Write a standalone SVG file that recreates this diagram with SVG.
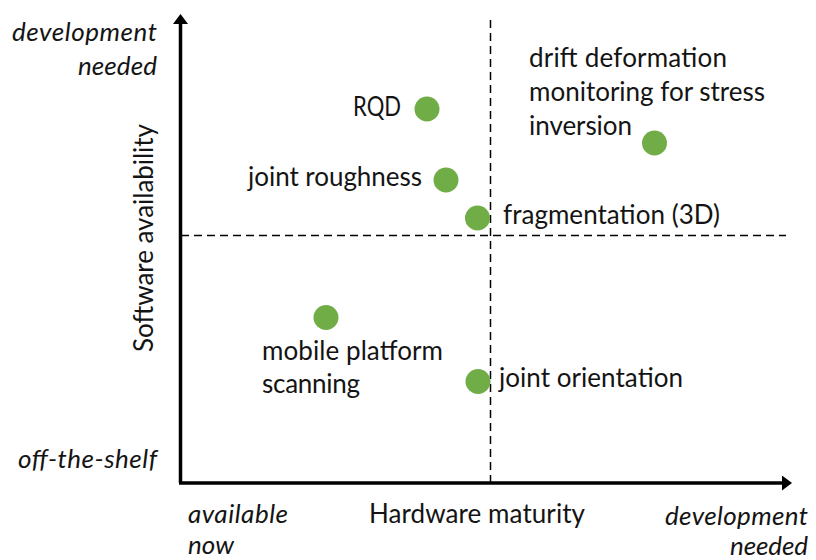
<svg xmlns="http://www.w3.org/2000/svg" width="816" height="560" viewBox="0 0 816 560">
  <style>
    .lbl { font-family: Lato, "Liberation Sans", sans-serif; font-size: 26px; fill: #141414; }
    .it { font-style: italic; }
    .end { text-anchor: end; }
    .axis { stroke: #000; stroke-width: 3.5; fill: none; }
    .div { stroke: #000; stroke-width: 1.5; stroke-dasharray: 8 5; fill: none; }
    .dot { fill: #70AD47; }
  </style>
  <defs>
    <marker id="arrow" viewBox="0 0 10 15" refX="0" refY="7.5" markerWidth="10" markerHeight="15" markerUnits="userSpaceOnUse" orient="auto">
      <path d="M0,0 L10,7.5 L0,15 Z" fill="#000"/>
    </marker>
  </defs>

  <rect width="816" height="560" fill="#fff"/>

  <!-- axes and quadrant dividers -->
  <g id="connectors">
    <path class="div" d="M490.5,20 V483"/>
    <path class="div" d="M181,235.5 H786"/>
    <path class="axis" d="M180.5,483 V24" marker-end="url(#arrow)"/>
    <path class="axis" d="M179,483 H782" marker-end="url(#arrow)"/>
  </g>

  <!-- axis titles and end labels -->
  <g id="axis-labels">
    <text class="lbl it end" x="157" y="41" textLength="145">development</text>
    <text class="lbl it end" x="157" y="75" textLength="79">needed</text>
    <text class="lbl it end" x="157" y="468" textLength="139">off-the-shelf</text>
    <text class="lbl it" x="188" y="523" textLength="100">available</text>
    <text class="lbl it" x="188" y="554" textLength="46">now</text>
    <text class="lbl" x="369" y="523" textLength="216">Hardware maturity</text>
    <text class="lbl it end" x="808" y="525" textLength="143">development</text>
    <text class="lbl it end" x="808" y="555" textLength="78">needed</text>
    <text class="lbl" x="153" y="238" text-anchor="middle" textLength="228" transform="rotate(-90 153 238)">Software availability</text>
  </g>

  <g id="node-rqd">
    <circle class="dot" cx="427" cy="109" r="12.5"/>
    <text class="lbl" x="353" y="116" textLength="48" lengthAdjust="spacingAndGlyphs">RQD</text>
  </g>

  <g id="node-joint-roughness">
    <circle class="dot" cx="446" cy="180" r="12.5"/>
    <text class="lbl" x="248" y="186" textLength="174">joint roughness</text>
  </g>

  <g id="node-fragmentation">
    <circle class="dot" cx="477.5" cy="218" r="12.5"/>
    <text class="lbl" x="503" y="224" textLength="217">fragmentation (3D)</text>
  </g>

  <g id="node-drift-deformation">
    <circle class="dot" cx="654.5" cy="143" r="12.5"/>
    <text class="lbl" x="529" y="67" textLength="198">drift deformation</text>
    <text class="lbl" x="529" y="101" textLength="236">monitoring for stress</text>
    <text class="lbl" x="529" y="135" textLength="103">inversion</text>
  </g>

  <g id="node-mobile-platform">
    <circle class="dot" cx="326" cy="317.5" r="12.5"/>
    <text class="lbl" x="262" y="360" textLength="181">mobile platform</text>
    <text class="lbl" x="262" y="393" textLength="98">scanning</text>
  </g>

  <g id="node-joint-orientation">
    <circle class="dot" cx="478" cy="381.5" r="12.5"/>
    <text class="lbl" x="499" y="387" textLength="184">joint orientation</text>
  </g>
</svg>
